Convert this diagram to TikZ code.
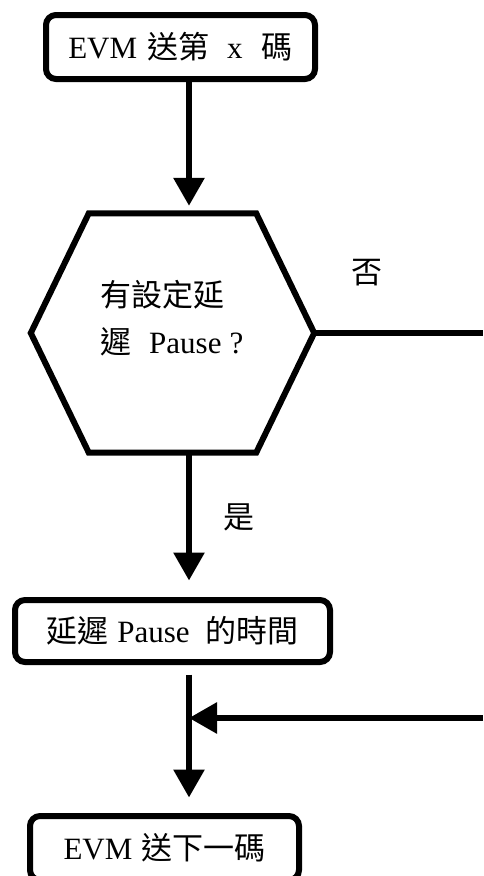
\documentclass[tikz,border=0pt]{standalone}
\usepackage{fontspec}
\setmainfont{Liberation Serif}
\newfontfamily\cjk{Noto Sans CJK TC}
\usetikzlibrary{arrows.meta,calc}
\begin{document}
\begin{tikzpicture}[x=1pt,y=-1pt,
  lw/.style={line width=6pt},
  procbox/.style={draw, lw, rounded corners=10pt, inner sep=0pt, font=\fontsize{31}{37}\selectfont},
  flow/.style={lw, -{Triangle[width=30pt,length=28pt]}},
  txt/.style={font=\fontsize{31}{37}\selectfont, inner sep=0pt}]
\useasboundingbox (0,0) rectangle (483,876);
\clip (0,0) rectangle (483,876);
\coordinate (ax) at (189,0);
\coordinate (rt) at (483,718);
% boxes
\node[procbox, minimum width=269pt, minimum height=64pt] (b1) at (180.5,47)
  {\raisebox{-3pt}{EVM\hspace{10pt}{\cjk 送第}\hspace{18pt}x\hspace{19pt}{\cjk 碼}}};
\node[minimum width=283pt, minimum height=239pt, inner sep=0pt] (dec) at (172.5,333) {};
\draw[lw, line join=miter] (dec.west) -- ($(dec.north west)+(58,0)$) -- ($(dec.north east)+(-58,0)$)
  -- (dec.east) -- ($(dec.south east)+(-58,0)$) -- ($(dec.south west)+(58,0)$) -- cycle;
\node[txt, anchor=west, align=left, font=\fontsize{31}{47}\selectfont] (q) at (100,318.5)
  {{\cjk 有設定延}\\{\cjk 遲}\hspace{18pt}Pause\hspace{8pt}?};
\node[procbox, minimum width=315pt, minimum height=62pt] (b2) at (172.5,631)
  {\raisebox{-3pt}{{\cjk 延遲}\hspace{9pt}Pause\hspace{16pt}{\cjk 的時間}}};
\node[procbox, minimum width=269pt, minimum height=64pt] (b3) at (164.5,848)
  {\raisebox{-3pt}{EVM\hspace{9pt}{\cjk 送下一碼}}};
% labels
\node[txt] (no) at (367,273) {\cjk 否};
\node[txt] (yes) at (239,517) {\cjk 是};
% connectors
\draw[flow] (b1.south -| ax) -- ($(dec.north -| ax)+(0,-7.5)$);
\draw[lw] (dec.east) -- (dec.east -| rt);
\draw[flow] (dec.south -| ax) -- ($(b2.north -| ax)+(0,-16.5)$);
\draw[flow] ($(b2.south -| ax)+(0,9.5)$) -- ($(b3.north -| ax)+(0,-15.5)$);
\draw[flow] (rt) -- (rt -| ax);
\end{tikzpicture}
\end{document}
